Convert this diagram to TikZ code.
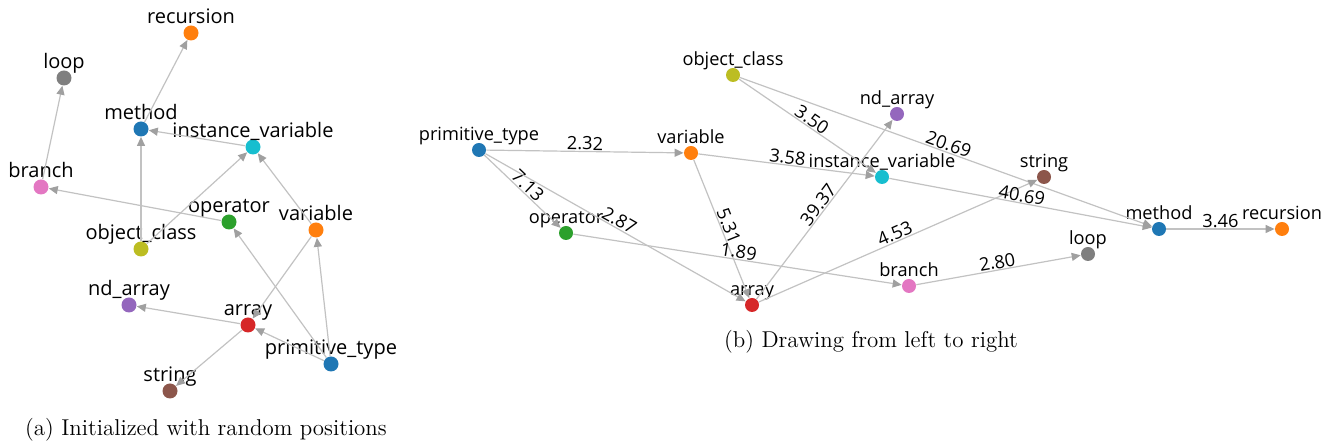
\documentclass[tikz,border=0pt]{standalone}
\usepackage{fontspec}
\setsansfont{Open Sans}
\usetikzlibrary{arrows.meta}
\definecolor{tblue}{HTML}{1F77B4}
\definecolor{torange}{HTML}{FF7F0E}
\definecolor{tgreen}{HTML}{2CA02C}
\definecolor{tred}{HTML}{D62728}
\definecolor{tpurple}{HTML}{9467BD}
\definecolor{tbrown}{HTML}{8C564B}
\definecolor{tpink}{HTML}{E377C2}
\definecolor{tgray}{HTML}{7F7F7F}
\definecolor{tolive}{HTML}{BCBD22}
\definecolor{tcyan}{HTML}{17BECF}
\definecolor{linegray}{HTML}{C2C2C2}
\definecolor{arrowgray}{HTML}{A0A0A0}
\begin{document}
\begin{tikzpicture}[x=0.5pt,y=-0.5pt,
  dota/.style={circle,inner sep=0pt,minimum size=7.5pt,fill=#1},
  dotb/.style={circle,inner sep=0pt,minimum size=7pt,fill=#1},
  laba/.style={font=\sffamily\fontsize{10}{12}\selectfont,anchor=base,inner sep=0pt},
  labb/.style={font=\sffamily\fontsize{9.1}{11}\selectfont,anchor=base,inner sep=0pt},
  edge/.style={draw=linegray,line width=0.6pt,-{Triangle[length=4.5pt,width=4pt,color=arrowgray]}},
  wt/.style={font=\sffamily\fontsize{9.1}{11}\selectfont,sloped,anchor=south,inner sep=0.3pt,pos=0.5},
  captxt/.style={font=\rmfamily\fontsize{11.45}{13.5}\selectfont,anchor=base,inner sep=0pt}
]
\useasboundingbox (0,0) rectangle (1323,442);

% ---------- panel (a) ----------
\node[dota=torange] (arec) at (191,33) {};
\node[dota=tgray]   (aloop) at (64,78) {};
\node[dota=tblue]   (ameth) at (141,129) {};
\node[dota=tcyan]   (ainst) at (253,147) {};
\node[dota=tpink]   (abr) at (41,187) {};
\node[dota=tgreen]  (aop) at (229,222) {};
\node[dota=torange] (avar) at (316,230) {};
\node[dota=tolive]  (aobj) at (141,249) {};
\node[dota=tpurple] (and) at (129,305) {};
\node[dota=tred]    (aarr) at (248,325) {};
\node[dota=tblue]   (aprim) at (331,364) {};
\node[dota=tbrown]  (astr) at (170,391) {};

\node[laba] (arecl) at (191,23.5) {recursion};
\node[laba] (aloopl) at (64,68.5) {loop};
\node[laba] (amethl) at (141,119.5) {method};
\node[laba] (ainstl) at (253,137.5) {instance\_variable};
\node[laba] (abrl) at (41,177.5) {branch};
\node[laba] (aopl) at (229,212.5) {operator};
\node[laba] (avarl) at (316,220.5) {variable};
\node[laba] (aobjl) at (141,239.5) {object\_class};
\node[laba] (andl) at (129,295.5) {nd\_array};
\node[laba] (aarrl) at (248,315.5) {array};
\node[laba] (apriml) at (331,354.5) {primitive\_type};
\node[laba] (astrl) at (170,381.5) {string};

\draw[edge] (ameth) -- (arec);
\draw[edge] (abr) -- (aloop);
\draw[edge] (ainst) -- (ameth);
\draw[edge] (aobj) -- (ameth);
\draw[edge] (aobj) -- (ainst);
\draw[edge] (avar) -- (ainst);
\draw[edge] (aop) -- (abr);
\draw[edge] (aprim) -- (aop);
\draw[edge] (aprim) -- (avar);
\draw[edge] (avar) -- (aarr);
\draw[edge] (aprim) -- (aarr);
\draw[edge] (aarr) -- (and);
\draw[edge] (aarr) -- (astr);

\node[captxt] (capa) at (206,436) {(a) Initialized with random positions};

% ---------- panel (b) ----------
\node[dotb=tblue]   (bprim) at (479,150) {};
\node[dotb=torange] (bvar) at (691,153) {};
\node[dotb=tolive]  (bobj) at (733,75) {};
\node[dotb=tgreen]  (bop) at (566,233) {};
\node[dotb=tred]    (barr) at (752,305) {};
\node[dotb=tpurple] (bnd) at (897,114) {};
\node[dotb=tcyan]   (binst) at (882,177) {};
\node[dotb=tbrown]  (bstr) at (1044,177) {};
\node[dotb=tblue]   (bmeth) at (1159,229) {};
\node[dotb=torange] (brec) at (1282,229) {};
\node[dotb=tgray]   (bloop) at (1088,254) {};
\node[dotb=tpink]   (bbr) at (909,286) {};

\node[labb] (bpriml) at (479,141) {primitive\_type};
\node[labb] (bvarl) at (691,144) {variable};
\node[labb] (bobjl) at (733,66) {object\_class};
\node[labb] (bopl) at (566,224) {operator};
\node[labb] (barrl) at (752,296) {array};
\node[labb] (bndl) at (897,105) {nd\_array};
\node[labb] (binstl) at (882,168) {instance\_variable};
\node[labb] (bstrl) at (1044,168) {string};
\node[labb] (bmethl) at (1159,220) {method};
\node[labb] (brecl) at (1282,220) {recursion};
\node[labb] (bloopl) at (1088,245) {loop};
\node[labb] (bbrl) at (909,277) {branch};

\draw[edge] (bprim) -- node[wt] {2.32} (bvar);
\draw[edge] (bprim) -- node[wt] {7.13} (bop);
\draw[edge] (bprim) -- node[wt] {2.87} (barr);
\draw[edge] (bvar) -- node[wt] {3.58} (binst);
\draw[edge] (bvar) -- node[wt] {5.31} (barr);
\draw[edge] (bop) -- node[wt] {1.89} (bbr);
\draw[edge] (bobj) -- node[wt] {3.50} (binst);
\draw[edge] (bobj) -- node[wt] {20.69} (bmeth);
\draw[edge] (barr) -- node[wt] {39.37} (bnd);
\draw[edge] (barr) -- node[wt] {4.53} (bstr);
\draw[edge] (binst) -- node[wt] {40.69} (bmeth);
\draw[edge] (bbr) -- node[wt] {2.80} (bloop);
\draw[edge] (bmeth) -- node[wt] {3.46} (brec);

\node[captxt] (capb) at (871,348) {(b) Drawing from left to right};
\end{tikzpicture}
\end{document}
